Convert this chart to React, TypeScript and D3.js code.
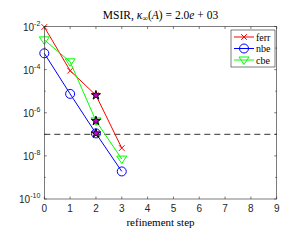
import React from 'react'
import * as d3 from 'd3'

const width = 292
const height = 240
const margin = { top: 26.5, right: 15.3, bottom: 41, left: 44.3 }

const steps = [0, 1, 2, 3]
const ferr = [9.5e-3, 8.9e-5, 6.5e-6, 2.3e-8]
const nbe = [5.7e-4, 7.5e-6, 1.1e-7, 1.9e-9]
const cbe = [2.4e-3, 2.3e-4, 4.2e-7, 7.1e-9]
const starStep = 2
const threshold = 1e-7
const xTicks = [0, 1, 2, 3, 4, 5, 6, 7, 8, 9]
const yTickExps = [-2, -4, -6, -8, -10]
const yMinorExps = [-3, -5, -7, -9]

const series = [
  { name: 'ferr', values: ferr, color: '#ff0000', marker: 'x' },
  { name: 'nbe', values: nbe, color: '#0000ff', marker: 'o' },
  { name: 'cbe', values: cbe, color: '#00ff00', marker: 'v' },
]

const serif = '"Liberation Serif", "DejaVu Serif", serif'
const sans = '"Liberation Sans", Arial, sans-serif'

function Marker({ type, x, y, color }) {
  if (type === 'x') {
    const s = 2.8
    return (
      <path d={`M${x - s},${y - s}L${x + s},${y + s}M${x - s},${y + s}L${x + s},${y - s}`}
        stroke={color} strokeWidth={1} fill='none' />
    )
  }
  if (type === 'o') {
    return <circle cx={x} cy={y} r={4.5} stroke={color} strokeWidth={1} fill='none' />
  }
  const s = 5
  return (
    <path d={`M${x - s},${y - s * 0.6}L${x + s},${y - s * 0.6}L${x},${y + s * 0.9}Z`}
      stroke={color} strokeWidth={1} fill='none' />
  )
}

const star = d3.symbol().type(d3.symbolStar).size(26)

export default function App() {
  const x = d3.scaleLinear().domain([0, 9]).range([margin.left, width - margin.right])
  const y = d3.scaleLog().domain([1e-10, 1e-2]).range([height - margin.bottom, margin.top])
  const line = d3.line<number>().x((d, i) => x(steps[i])).y(d => y(d))

  const x0 = x(0), x1 = x(9), y0 = y(1e-10), y1 = y(1e-2)
  const axisColor = '#262626'
  const tickLen = 2.5

  return (
    <svg width={width} height={height} style={{ position: 'absolute', left: 0, top: 0, background: '#fff' }}>
      <rect x={0} y={0} width={width} height={height} fill='#fff' />
      {/* threshold */}
      <line x1={x0} x2={x1} y1={y(threshold)} y2={y(threshold)} stroke='#333' strokeWidth={1} strokeDasharray='6,4' />

      {series.map(s => (
        <g key={s.name}>
          <path d={line(s.values) || ''} fill='none' stroke={s.color} strokeWidth={1} />
          {s.values.map((v, i) => (
            <Marker key={i} type={s.marker} x={x(steps[i])} y={y(v)} color={s.color} />
          ))}
          <path d={star() || ''} transform={`translate(${x(starStep)},${y(s.values[steps.indexOf(starStep)])})`}
            fill='#cc00cc' stroke='#000' strokeWidth={1} />
        </g>
      ))}

      {/* axes box */}
      <rect x={x0} y={y1} width={x1 - x0} height={y0 - y1} fill='none' stroke={axisColor} strokeWidth={0.6} />
      {xTicks.map(t => (
        <g key={t}>
          <line x1={x(t)} x2={x(t)} y1={y0} y2={y0 - tickLen} stroke={axisColor} strokeWidth={0.6} />
          <line x1={x(t)} x2={x(t)} y1={y1} y2={y1 + tickLen} stroke={axisColor} strokeWidth={0.6} />
          <text x={x(t)} y={y0 + 13} textAnchor='middle' fontFamily={sans} fontSize={10} fill={axisColor}>{t}</text>
        </g>
      ))}
      {yTickExps.map(e => (
        <g key={e}>
          <line x1={x0} x2={x0 + tickLen} y1={y(10 ** e)} y2={y(10 ** e)} stroke={axisColor} strokeWidth={0.6} />
          <line x1={x1} x2={x1 - tickLen} y1={y(10 ** e)} y2={y(10 ** e)} stroke={axisColor} strokeWidth={0.6} />
          <text x={x0 - 4} y={y(10 ** e) + 4} textAnchor='end' fontFamily={sans} fill={axisColor}>
            <tspan fontSize={10}>10</tspan>
            <tspan fontSize={7} dy={-5}>{e}</tspan>
          </text>
        </g>
      ))}
      {yMinorExps.map(e => (
        <g key={e}>
          <line x1={x0} x2={x0 + 1.5} y1={y(10 ** e)} y2={y(10 ** e)} stroke={axisColor} strokeWidth={0.6} />
          <line x1={x1} x2={x1 - 1.5} y1={y(10 ** e)} y2={y(10 ** e)} stroke={axisColor} strokeWidth={0.6} />
        </g>
      ))}

      {/* title */}
      <text x={(x0 + x1) / 2} y={19} textAnchor='middle' fontFamily={serif} fontWeight='normal' fontSize={11.5} fill='#000'>
        <tspan>MSIR,  </tspan>
        <tspan fontStyle='italic'>κ</tspan>
        <tspan fontSize={8} dy={2}>∞</tspan>
        <tspan dy={-2}>(</tspan>
        <tspan fontStyle='italic'>A</tspan>
        <tspan>) = 2.0</tspan>
        <tspan fontStyle='italic'>e</tspan>
        <tspan> + 03</tspan>
      </text>

      {/* x label */}
      <text x={(x0 + x1) / 2} y={226} textAnchor='middle' fontFamily={serif} fontWeight='normal' fontSize={11} fill='#000'>refinement step</text>

      {/* legend */}
      <g transform='translate(231,30)'>
        <rect x={0} y={0} width={44} height={37} fill='#fff' stroke={axisColor} strokeWidth={0.6} />
        {series.map((s, i) => (
          <g key={s.name} transform={`translate(0,${7 + i * 11.5})`}>
            <line x1={3} x2={23} y1={0} y2={0} stroke={s.color} strokeWidth={1} />
            <Marker type={s.marker} x={13} y={0} color={s.color} />
            <text x={25} y={3.5} fontFamily={serif} fontSize={10} fill='#000'>{s.name}</text>
          </g>
        ))}
      </g>
    </svg>
  )
}
